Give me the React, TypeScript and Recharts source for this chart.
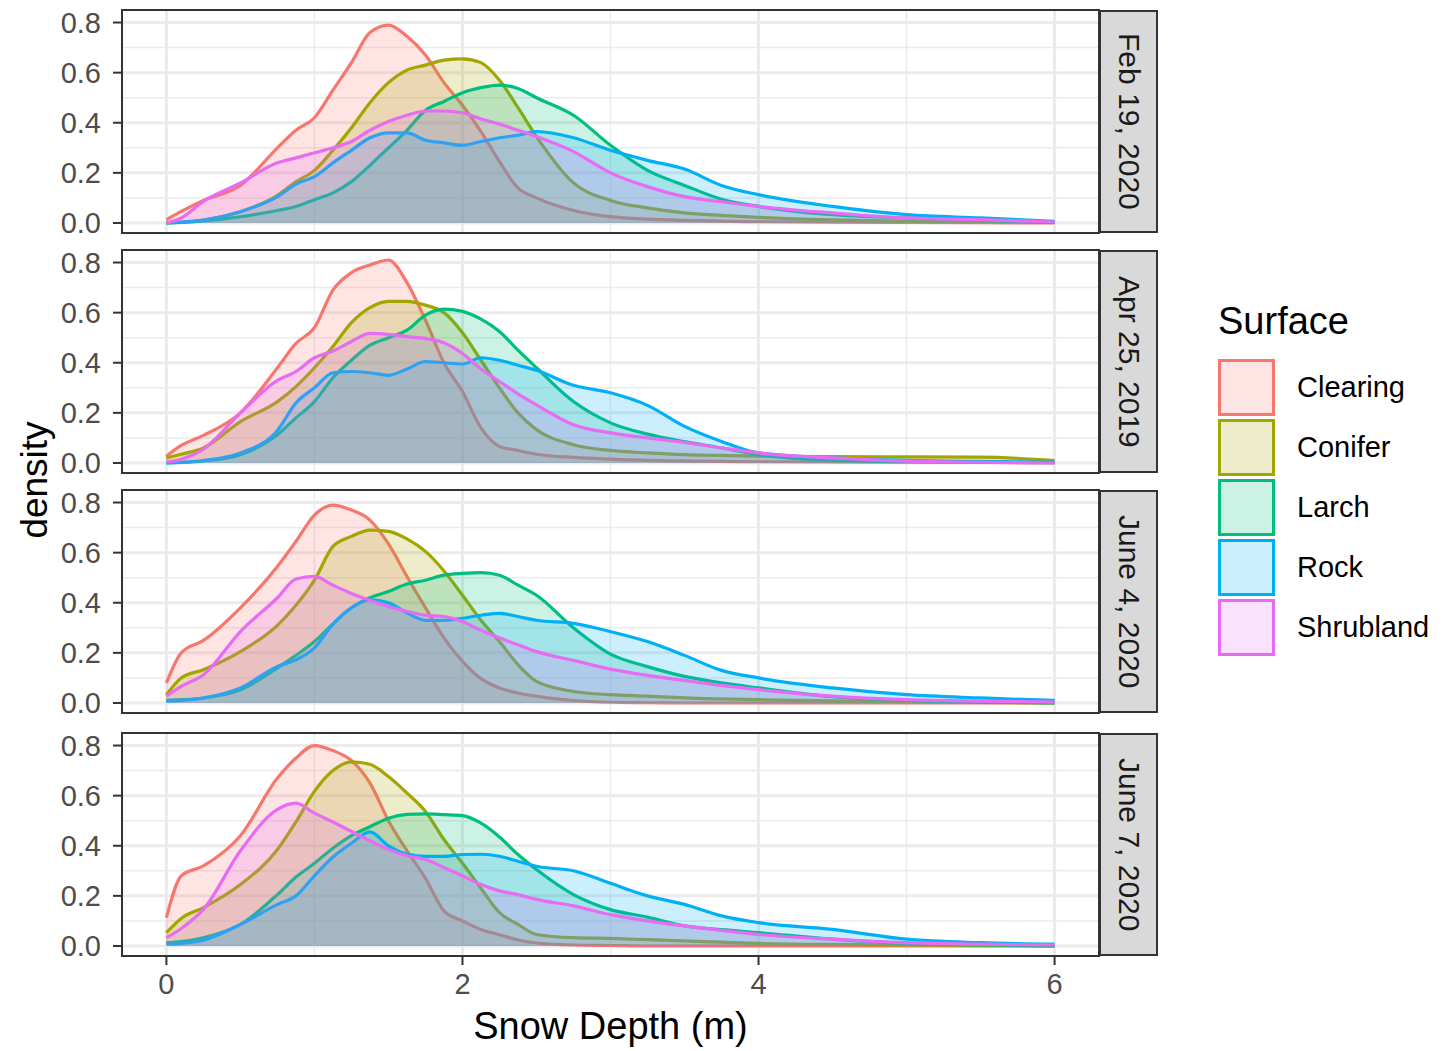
import React from 'react';
import { ComposedChart, Area, XAxis, YAxis, CartesianGrid, ReferenceArea } from 'recharts';

// snow depth grid (m) shared by every density curve
const XS = [0, 0.1, 0.25, 0.5, 0.75, 0.875, 1, 1.125, 1.25, 1.375, 1.5, 1.625, 1.75, 1.875, 2, 2.125, 2.25, 2.375, 2.5, 2.75, 3, 3.25, 3.5, 3.75, 4, 4.5, 5, 5.5, 6];

const SURFACES = ['Clearing', 'Conifer', 'Larch', 'Rock', 'Shrubland'];
const COLORS = ['#F8766D', '#A3A500', '#00BF7D', '#00B0F6', '#E76BF3'];
const DATES = ['Feb 19, 2020', 'Apr 25, 2019', 'June 4, 2020', 'June 7, 2020'];

const X_TICKS = [0, 2, 4, 6];
const Y_TICKS = [0, 0.2, 0.4, 0.6, 0.8];
const X_MINOR = [1, 3, 5];
const Y_MINOR = [0.1, 0.3, 0.5, 0.7];

// Feb 19, 2020
const FEB_CLEARING = [0.013, 0.046, 0.09, 0.15, 0.3, 0.37, 0.42, 0.53, 0.64, 0.76, 0.79, 0.745, 0.67, 0.56, 0.47, 0.365, 0.245, 0.14, 0.1, 0.05, 0.025, 0.015, 0.01, 0.007, 0.005, 0.003, 0.002, 0.001, 0];
const FEB_CONIFER = [0, 0.003, 0.012, 0.045, 0.11, 0.165, 0.21, 0.29, 0.38, 0.48, 0.56, 0.61, 0.63, 0.65, 0.655, 0.64, 0.57, 0.46, 0.345, 0.16, 0.09, 0.06, 0.04, 0.03, 0.022, 0.012, 0.007, 0.004, 0.002];
const FEB_LARCH = [0, 0.002, 0.008, 0.025, 0.05, 0.066, 0.093, 0.12, 0.165, 0.23, 0.3, 0.37, 0.45, 0.485, 0.52, 0.54, 0.55, 0.537, 0.5, 0.43, 0.31, 0.21, 0.15, 0.095, 0.066, 0.033, 0.02, 0.01, 0.002];
const FEB_ROCK = [0, 0.004, 0.012, 0.045, 0.105, 0.155, 0.185, 0.24, 0.29, 0.34, 0.36, 0.36, 0.33, 0.32, 0.31, 0.325, 0.34, 0.35, 0.365, 0.34, 0.29, 0.25, 0.215, 0.15, 0.113, 0.066, 0.033, 0.02, 0.007];
const FEB_SHRUB = [0, 0.02, 0.086, 0.16, 0.24, 0.26, 0.28, 0.3, 0.325, 0.37, 0.405, 0.43, 0.447, 0.447, 0.44, 0.415, 0.395, 0.37, 0.345, 0.285, 0.2, 0.145, 0.105, 0.085, 0.066, 0.04, 0.02, 0.013, 0.004];

// Apr 25, 2019
const APR_CLEARING = [0.027, 0.07, 0.11, 0.2, 0.38, 0.477, 0.54, 0.69, 0.76, 0.79, 0.81, 0.72, 0.57, 0.4, 0.285, 0.14, 0.066, 0.05, 0.035, 0.022, 0.015, 0.01, 0.008, 0.006, 0.005, 0.004, 0.003, 0.002, 0.001];
const APR_CONIFER = [0.02, 0.035, 0.06, 0.165, 0.245, 0.305, 0.38, 0.465, 0.56, 0.62, 0.645, 0.645, 0.63, 0.6, 0.52, 0.41, 0.3, 0.2, 0.133, 0.073, 0.05, 0.04, 0.033, 0.03, 0.027, 0.025, 0.024, 0.023, 0.01];
const APR_LARCH = [0, 0.002, 0.008, 0.033, 0.113, 0.18, 0.245, 0.34, 0.41, 0.47, 0.5, 0.53, 0.59, 0.614, 0.605, 0.574, 0.525, 0.45, 0.38, 0.245, 0.16, 0.115, 0.085, 0.06, 0.033, 0.01, 0.005, 0.003, 0.001];
const APR_ROCK = [0, 0.003, 0.01, 0.04, 0.13, 0.24, 0.3, 0.36, 0.365, 0.36, 0.35, 0.375, 0.405, 0.4, 0.395, 0.42, 0.41, 0.39, 0.37, 0.31, 0.28, 0.23, 0.146, 0.086, 0.04, 0.02, 0.01, 0.006, 0.004];
const APR_SHRUB = [0.004, 0.015, 0.055, 0.2, 0.33, 0.365, 0.42, 0.447, 0.485, 0.517, 0.513, 0.504, 0.497, 0.48, 0.437, 0.375, 0.325, 0.276, 0.232, 0.153, 0.12, 0.1, 0.082, 0.06, 0.04, 0.02, 0.007, 0.003, 0];

// June 4, 2020
const JUN4_CLEARING = [0.08, 0.2, 0.25, 0.38, 0.545, 0.645, 0.75, 0.79, 0.77, 0.73, 0.635, 0.505, 0.38, 0.26, 0.166, 0.097, 0.06, 0.04, 0.027, 0.01, 0.003, 0.001, 0, 0, 0, 0, 0, 0, 0];
const JUN4_CONIFER = [0.033, 0.1, 0.133, 0.205, 0.31, 0.39, 0.49, 0.625, 0.665, 0.69, 0.685, 0.655, 0.605, 0.527, 0.43, 0.33, 0.245, 0.153, 0.086, 0.046, 0.033, 0.027, 0.02, 0.016, 0.013, 0.008, 0.004, 0.002, 0];
const JUN4_LARCH = [0.01, 0.013, 0.02, 0.053, 0.14, 0.19, 0.245, 0.315, 0.38, 0.42, 0.445, 0.475, 0.49, 0.51, 0.517, 0.52, 0.51, 0.47, 0.43, 0.3, 0.195, 0.145, 0.106, 0.08, 0.06, 0.025, 0.01, 0.004, 0];
const JUN4_ROCK = [0.007, 0.01, 0.02, 0.06, 0.146, 0.172, 0.22, 0.315, 0.38, 0.412, 0.4, 0.36, 0.33, 0.33, 0.338, 0.35, 0.358, 0.345, 0.33, 0.318, 0.285, 0.245, 0.19, 0.13, 0.1, 0.06, 0.033, 0.02, 0.01];
const JUN4_SHRUB = [0.027, 0.066, 0.113, 0.285, 0.42, 0.495, 0.505, 0.47, 0.437, 0.41, 0.385, 0.366, 0.35, 0.345, 0.325, 0.29, 0.26, 0.232, 0.205, 0.17, 0.135, 0.11, 0.09, 0.07, 0.053, 0.027, 0.013, 0.007, 0.004];

// June 7, 2020
const JUN7_CLEARING = [0.113, 0.28, 0.32, 0.44, 0.67, 0.75, 0.8, 0.78, 0.74, 0.65, 0.5, 0.38, 0.27, 0.14, 0.1, 0.066, 0.045, 0.024, 0.012, 0.004, 0.002, 0, 0, 0, 0, 0, 0, 0, 0];
const JUN7_CONIFER = [0.053, 0.11, 0.153, 0.245, 0.385, 0.495, 0.617, 0.7, 0.735, 0.725, 0.676, 0.61, 0.537, 0.425, 0.33, 0.23, 0.133, 0.086, 0.046, 0.033, 0.03, 0.025, 0.02, 0.015, 0.01, 0.006, 0.004, 0.002, 0];
const JUN7_LARCH = [0.013, 0.018, 0.033, 0.086, 0.205, 0.275, 0.33, 0.39, 0.44, 0.476, 0.51, 0.525, 0.527, 0.524, 0.52, 0.49, 0.435, 0.365, 0.305, 0.205, 0.145, 0.115, 0.08, 0.065, 0.053, 0.027, 0.01, 0.004, 0];
const JUN7_ROCK = [0.007, 0.01, 0.023, 0.086, 0.166, 0.2, 0.28, 0.355, 0.41, 0.455, 0.4, 0.367, 0.358, 0.358, 0.365, 0.366, 0.358, 0.338, 0.318, 0.3, 0.25, 0.2, 0.166, 0.12, 0.093, 0.066, 0.027, 0.013, 0.007];
const JUN7_SHRUB = [0.033, 0.07, 0.146, 0.38, 0.545, 0.57, 0.53, 0.495, 0.457, 0.42, 0.385, 0.36, 0.345, 0.313, 0.28, 0.245, 0.22, 0.205, 0.186, 0.16, 0.125, 0.1, 0.08, 0.062, 0.046, 0.027, 0.013, 0.007, 0.004];

const PANEL_SERIES = [
    [FEB_CLEARING, FEB_CONIFER, FEB_LARCH, FEB_ROCK, FEB_SHRUB],
    [APR_CLEARING, APR_CONIFER, APR_LARCH, APR_ROCK, APR_SHRUB],
    [JUN4_CLEARING, JUN4_CONIFER, JUN4_LARCH, JUN4_ROCK, JUN4_SHRUB],
    [JUN7_CLEARING, JUN7_CONIFER, JUN7_LARCH, JUN7_ROCK, JUN7_SHRUB],
];

const PANEL_TOPS = [10, 250, 490, 733];
const PLOT_H = 223;
const PLOT_LEFT = 122;
const PLOT_RIGHT = 1099;
const PAD = 16; // room above/below each plot so tick labels are not clipped
const X_DOMAIN: [number, number] = [-0.3, 6.3];
const Y_DOMAIN: [number, number] = [-0.04, 0.85];
const FONT = '"Liberation Sans", Arial, sans-serif';

function buildRows(series: number[][]) {
    return XS.map((x, i) => {
        const row: Record<string, number> = { x };
        SURFACES.forEach((s, k) => { row[s] = series[k][i]; });
        return row;
    });
}

function Panel({ index }: { index: number }) {
    const rows = buildRows(PANEL_SERIES[index]);
    const showX = index === PANEL_SERIES.length - 1;
    const axisH = showX ? 50 : 0;
    return (
        <div style={{ position: 'absolute', left: 0, top: PANEL_TOPS[index] - PAD }}>
            <ComposedChart
                width={PLOT_RIGHT + 1}
                height={PLOT_H + 2 * PAD + axisH}
                data={rows}
                margin={{ top: PAD, right: 1, bottom: PAD, left: 0 }}
                style={{ overflow: 'visible' }}
            >
                <CartesianGrid verticalValues={X_MINOR} horizontalValues={Y_MINOR} stroke="#ebebeb" strokeWidth={1.5} />
                <CartesianGrid verticalValues={X_TICKS} horizontalValues={Y_TICKS} stroke="#ebebeb" strokeWidth={3} />
                <XAxis
                    dataKey="x"
                    type="number"
                    domain={X_DOMAIN}
                    ticks={X_TICKS}
                    interval={0}
                    allowDataOverflow
                    hide={!showX}
                    height={axisH}
                    axisLine={false}
                    tickSize={9}
                    tickMargin={8}
                    tickLine={{ stroke: '#333333', strokeWidth: 2 }}
                    tick={{ fill: '#4d4d4d', fontSize: 29, fontFamily: FONT }}
                />
                <YAxis
                    type="number"
                    domain={Y_DOMAIN}
                    ticks={Y_TICKS}
                    interval={0}
                    allowDataOverflow
                    width={PLOT_LEFT}
                    axisLine={false}
                    tickSize={9}
                    tickMargin={12}
                    tickFormatter={(v: number) => v.toFixed(1)}
                    tickLine={{ stroke: '#333333', strokeWidth: 2 }}
                    tick={{ fill: '#4d4d4d', fontSize: 29, fontFamily: FONT }}
                />
                {SURFACES.map((s, k) => (
                    <Area
                        key={s}
                        type="monotone"
                        dataKey={s}
                        stroke={COLORS[k]}
                        strokeWidth={3.2}
                        fill={COLORS[k]}
                        fillOpacity={0.2}
                        baseValue={0}
                        dot={false}
                        activeDot={false}
                        isAnimationActive={false}
                    />
                ))}
                <ReferenceArea
                    x1={X_DOMAIN[0]}
                    x2={X_DOMAIN[1]}
                    y1={Y_DOMAIN[0]}
                    y2={Y_DOMAIN[1]}
                    fill="none"
                    stroke="#333333"
                    strokeWidth={2}
                />
            </ComposedChart>
            <div
                style={{
                    position: 'absolute',
                    left: PLOT_RIGHT,
                    top: PAD,
                    width: 59,
                    height: PLOT_H,
                    boxSizing: 'border-box',
                    background: '#d9d9d9',
                    border: '2px solid #333333',
                    display: 'flex',
                    alignItems: 'center',
                    justifyContent: 'center',
                    writingMode: 'vertical-rl',
                    fontFamily: FONT,
                    fontSize: 30,
                    color: '#1a1a1a',
                }}
            >
                {DATES[index]}
            </div>
        </div>
    );
}

function Legend() {
    return (
        <div style={{ position: 'absolute', left: 1218, top: 299, fontFamily: FONT }}>
            <div style={{ fontSize: 38, color: '#000', lineHeight: '44px' }}>Surface</div>
            <div style={{ marginTop: 14 }}>
                {SURFACES.map((s, k) => (
                    <div key={s} style={{ display: 'flex', alignItems: 'center', height: 60 }}>
                        <div
                            style={{
                                width: 57,
                                height: 57,
                                boxSizing: 'border-box',
                                border: `3px solid ${COLORS[k]}`,
                                background: COLORS[k] + '33',
                            }}
                        />
                        <div style={{ marginLeft: 22, fontSize: 29, color: '#000' }}>{s}</div>
                    </div>
                ))}
            </div>
        </div>
    );
}

export default function App() {
    return (
        <div style={{ position: 'absolute', left: 0, top: 0, width: 1444, height: 1051, background: '#fff', fontFamily: FONT }}>
            {PANEL_SERIES.map((_, i) => <Panel key={i} index={i} />)}
            <div
                style={{
                    position: 'absolute',
                    left: 35,
                    top: 480,
                    transform: 'translate(-50%, -50%) rotate(-90deg)',
                    fontSize: 37,
                    color: '#000',
                    whiteSpace: 'nowrap',
                }}
            >
                density
            </div>
            <div
                style={{
                    position: 'absolute',
                    left: (PLOT_LEFT + PLOT_RIGHT) / 2,
                    top: 1026,
                    transform: 'translate(-50%, -50%)',
                    fontSize: 38,
                    color: '#000',
                    whiteSpace: 'nowrap',
                }}
            >
                Snow Depth (m)
            </div>
            <Legend />
        </div>
    );
}
